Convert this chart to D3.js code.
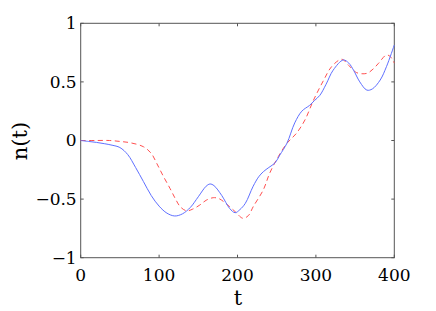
<!DOCTYPE html>
<html>
<head>
<meta charset="utf-8">
<script src="https://cdn.jsdelivr.net/npm/d3@7"></script>
<style>
  body { margin: 0; background: #fff; }
</style>
</head>
<body>
<div id="chart"></div>
<script>
// values
const blueT = [0, 10, 20, 30, 40, 50, 60, 70, 80, 90, 100, 110, 120, 130, 140, 150, 160, 165, 170, 180, 190, 197, 203, 210, 220, 227, 233, 240, 248, 254, 263, 273, 282, 292, 298, 305, 313, 322, 335, 342, 348, 356, 365, 372, 382, 390, 400];
const blueN = [0, -0.008, -0.016, -0.027, -0.04, -0.06, -0.12, -0.23, -0.35, -0.47, -0.56, -0.62, -0.644, -0.625, -0.57, -0.48, -0.39, -0.371, -0.385, -0.47, -0.58, -0.616, -0.59, -0.536, -0.39, -0.31, -0.266, -0.23, -0.19, -0.124, -0.024, 0.15, 0.25, 0.30, 0.34, 0.385, 0.48, 0.60, 0.687, 0.66, 0.60, 0.5, 0.43, 0.44, 0.516, 0.63, 0.815];
const redT = [0, 20, 37, 50, 63, 80, 90, 97, 105, 114, 121, 127, 135, 143, 152, 160, 169, 176, 182, 190, 197, 207, 214, 220, 233, 241, 252, 263, 275, 286, 297, 310, 320, 333, 342, 352, 365, 373, 380, 390, 395, 400];
const redN = [0, 0, 0, -0.008, -0.019, -0.053, -0.11, -0.195, -0.3, -0.41, -0.5, -0.565, -0.6, -0.585, -0.55, -0.51, -0.488, -0.495, -0.52, -0.565, -0.607, -0.664, -0.64, -0.565, -0.42, -0.28, -0.138, -0.024, 0.06, 0.175, 0.345, 0.516, 0.63, 0.693, 0.64, 0.579, 0.573, 0.61, 0.66, 0.73, 0.715, 0.66];
const xTicks = [0, 100, 200, 300, 400];
const yTicks = [-1, -0.5, 0, 0.5, 1];

const width = 436, height = 311;
const mLeft = 80.7, mRight = 394.3, mTop = 23.3, mBottom = 257.7;
const serif = "DejaVu Serif";

const svg = d3.select("#chart").append("svg")
  .attr("width", width)
  .attr("height", height);

const x = d3.scaleLinear().domain([0, 400]).range([mLeft, mRight]);
const y = d3.scaleLinear().domain([-1, 1]).range([mBottom, mTop]);

const axisColor = "#555";

// frame
svg.append("rect")
  .attr("x", mLeft).attr("y", mTop)
  .attr("width", mRight - mLeft).attr("height", mBottom - mTop)
  .attr("fill", "none").attr("stroke", axisColor).attr("stroke-width", 1);

// inward ticks on all four sides
const tl = 3;
xTicks.forEach(function(t) {
  svg.append("line").attr("x1", x(t)).attr("x2", x(t)).attr("y1", mBottom).attr("y2", mBottom - tl).attr("stroke", axisColor);
  svg.append("line").attr("x1", x(t)).attr("x2", x(t)).attr("y1", mTop).attr("y2", mTop + tl).attr("stroke", axisColor);
  svg.append("text")
    .attr("x", x(t)).attr("y", 281)
    .attr("text-anchor", "middle")
    .attr("font-family", serif)
    .attr("font-size", 17)
    .text(d3.format("d")(t));
});
yTicks.forEach(function(v) {
  svg.append("line").attr("x1", mLeft).attr("x2", mLeft + tl).attr("y1", y(v)).attr("y2", y(v)).attr("stroke", axisColor);
  svg.append("line").attr("x1", mRight).attr("x2", mRight - tl).attr("y1", y(v)).attr("y2", y(v)).attr("stroke", axisColor);
  svg.append("text")
    .attr("x", mLeft - 4).attr("y", y(v))
    .attr("dy", "0.35em")
    .attr("text-anchor", "end")
    .attr("font-family", serif)
    .attr("font-size", 17)
    .text(v === 0 ? "0" : d3.format("")(v).replace("-", "\u2212"));
});

// axis labels
svg.append("text")
  .attr("x", 238).attr("y", 305)
  .attr("text-anchor", "middle")
  .attr("font-family", serif)
  .attr("font-size", 21)
  .text("t");
svg.append("text")
  .attr("transform", "translate(27,141) rotate(-90)")
  .attr("text-anchor", "middle")
  .attr("font-family", serif)
  .attr("font-size", 21)
  .text("n(t)");

const line = d3.line()
  .x(function(d) { return x(d[0]); })
  .y(function(d) { return y(d[1]); })
  .curve(d3.curveCatmullRom.alpha(0.5));

svg.append("path")
  .datum(redT.map(function(t, i) { return [t, redN[i]]; }))
  .attr("d", line)
  .attr("fill", "none")
  .attr("stroke", "#ff5050")
  .attr("stroke-width", 1)
  .attr("stroke-dasharray", "5,3.5");

svg.append("path")
  .datum(blueT.map(function(t, i) { return [t, blueN[i]]; }))
  .attr("d", line)
  .attr("fill", "none")
  .attr("stroke", "#5f70ff")
  .attr("stroke-width", 1);
</script>
</body>
</html>
